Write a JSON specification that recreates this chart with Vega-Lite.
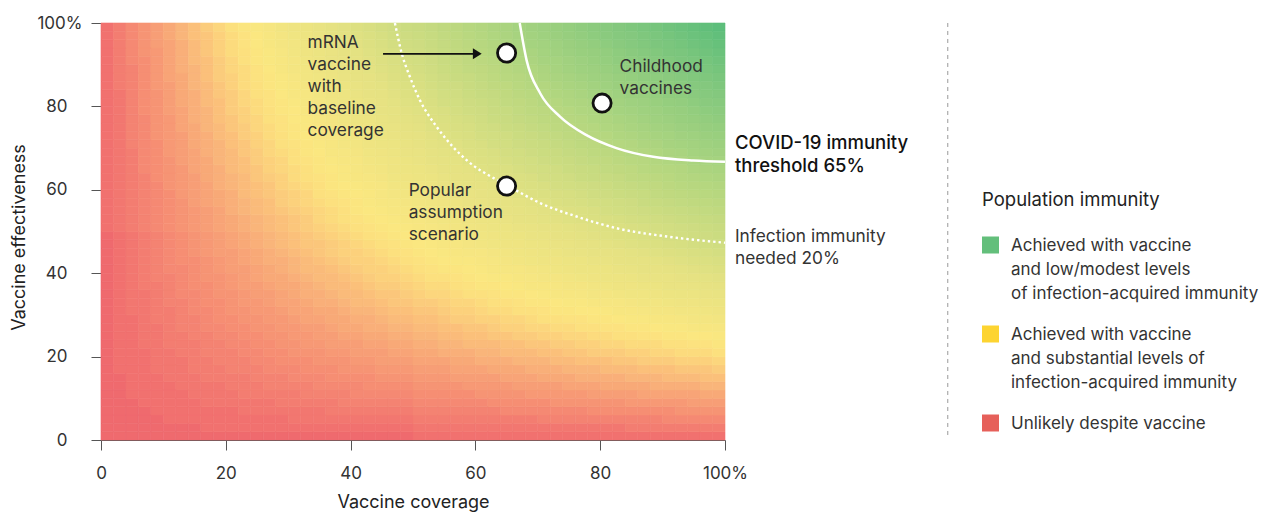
{
 "$schema": "https://vega.github.io/schema/vega-lite/v6.json",
 "width": 624, "height": 417,
 "autosize": {"type": "none"},
 "padding": {"left": 101, "top": 23, "right": 539, "bottom": 73},
 "background": "white",
 "config": {
  "view": {"stroke": null},
  "font": "Inter",
  "axis": {"labelFont": "Inter", "titleFont": "Inter", "labelFontSize": 17, "titleFontSize": 18, "titleFontWeight": "normal", "labelColor": "#333", "titleColor": "#222", "domainColor": "#555", "tickColor": "#555", "grid": false, "labelFlush": false},
  "legend": {"labelFont": "Inter", "titleFont": "Inter"}
 },
 "layer": [
  {
   "data": {"values": [
    {"x":0,"x2":2,"k":1,"v":[0,0,0,0,0,0,0,0,0,0,0,0,0,0,0,0,0,0,0,0,0,0,0,0,0,1,1,1,1,1,1,1,1,1,1,1,1,1,1,1,1,1,1,1,1,1,1,1,1,1]},
    {"x":2,"x2":4,"k":1,"v":[0,0,0,0,0,0,0,0,1,1,1,1,1,1,1,1,1,1,1,1,1,1,1,1,1,2,2,2,2,2,2,2,2,2,2,2,2,2,2,2,2,2,3,3,3,3,3,3,3,3]},
    {"x":4,"x2":6,"k":1,"v":[0,0,0,0,0,1,1,1,1,1,1,1,1,1,1,2,2,2,2,2,2,2,2,2,2,3,3,3,3,3,3,3,3,3,3,4,4,4,4,4,4,4,4,4,4,5,5,5,5,5]},
    {"x":6,"x2":8,"k":1,"v":[0,0,0,0,1,1,1,1,1,1,1,2,2,2,2,2,2,2,3,3,3,3,3,3,3,4,4,4,4,4,4,4,5,5,5,5,5,5,5,6,6,6,6,6,6,6,7,7,7,7]},
    {"x":8,"x2":10,"k":1,"v":[0,0,0,1,1,1,1,1,2,2,2,2,2,2,3,3,3,3,3,4,4,4,4,4,4,5,5,5,5,5,5,6,6,6,6,6,7,7,7,7,7,7,8,8,8,8,8,9,9,9]},
    {"x":10,"x2":12,"k":1,"v":[0,0,1,1,1,1,1,2,2,2,2,3,3,3,3,3,4,4,4,4,5,5,5,5,5,6,6,6,6,6,7,7,7,7,8,8,8,8,8,9,9,9,9,10,10,10,10,10,11,11]},
    {"x":12,"x2":14,"k":1,"v":[0,0,1,1,1,1,2,2,2,2,3,3,3,4,4,4,4,5,5,5,5,6,6,6,6,7,7,7,7,8,8,8,8,9,9,9,9,10,10,10,11,11,11,11,12,12,12,12,13,13]},
    {"x":14,"x2":16,"k":1,"v":[0,0,1,1,1,2,2,2,3,3,3,3,4,4,4,5,5,5,6,6,6,6,7,7,7,8,8,8,9,9,9,9,10,10,10,11,11,11,12,12,12,12,13,13,13,14,14,14,15,15]},
    {"x":16,"x2":18,"k":1,"v":[0,1,1,1,2,2,2,3,3,3,4,4,4,5,5,5,6,6,6,7,7,7,8,8,8,9,9,9,10,10,10,11,11,11,12,12,12,13,13,13,14,14,14,15,15,15,16,16,16,17]},
    {"x":18,"x2":20,"k":1,"v":[0,1,1,1,2,2,2,3,3,4,4,4,5,5,6,6,6,7,7,7,8,8,9,9,9,10,10,10,11,11,12,12,12,13,13,13,14,14,15,15,15,16,16,17,17,17,18,18,18,19]},
    {"x":20,"x2":22,"k":1,"v":[0,1,1,1,2,2,3,3,4,4,4,5,5,6,6,7,7,7,8,8,9,9,9,10,10,11,11,12,12,12,13,13,14,14,14,15,15,16,16,17,17,17,18,18,19,19,20,20,20,21]},
    {"x":22,"x2":24,"k":1,"v":[0,1,1,2,2,3,3,3,4,4,5,5,6,6,7,7,8,8,9,9,9,10,10,11,11,12,12,13,13,14,14,14,15,15,16,16,17,17,18,18,19,19,20,20,20,21,21,22,22,23]},
    {"x":24,"x2":26,"k":1,"v":[0,1,1,2,2,3,3,4,4,5,5,6,6,7,7,8,8,9,9,10,10,11,11,12,12,13,13,14,14,15,15,16,16,17,17,18,18,19,19,20,20,21,21,22,22,23,23,24,24,25]},
    {"x":26,"x2":28,"k":1,"v":[0,1,1,2,2,3,4,4,5,5,6,6,7,7,8,8,9,9,10,11,11,12,12,13,13,14,14,15,15,16,16,17,18,18,19,19,20,20,21,21,22,22,23,23,24,25,25,26,26,27]},
    {"x":28,"x2":30,"k":1,"v":[0,1,1,2,3,3,4,4,5,6,6,7,7,8,8,9,10,10,11,11,12,12,13,14,14,15,15,16,17,17,18,18,19,19,20,21,21,22,22,23,23,24,25,25,26,26,27,28,28,29]},
    {"x":30,"x2":32,"k":1,"v":[0,1,2,2,3,3,4,5,5,6,7,7,8,8,9,10,10,11,11,12,13,13,14,15,15,16,16,17,18,18,19,20,20,21,21,22,23,23,24,24,25,26,26,27,28,28,29,29,30,31]},
    {"x":32,"x2":34,"k":1,"v":[0,1,2,2,3,4,4,5,6,6,7,8,8,9,10,10,11,12,12,13,14,14,15,16,16,17,17,18,19,19,20,21,21,22,23,23,24,25,25,26,27,27,28,29,29,30,31,31,32,33]},
    {"x":34,"x2":36,"k":1,"v":[0,1,2,2,3,4,5,5,6,7,7,8,9,9,10,11,12,12,13,14,14,15,16,16,17,18,19,19,20,21,21,22,23,23,24,25,26,26,27,28,28,29,30,30,31,32,33,33,34,35]},
    {"x":36,"x2":38,"k":1,"v":[0,1,2,3,3,4,5,6,6,7,8,9,9,10,11,11,12,13,14,14,15,16,17,17,18,19,20,20,21,22,23,23,24,25,26,26,27,28,28,29,30,31,31,32,33,34,34,35,36,37]},
    {"x":38,"x2":40,"k":1,"v":[0,1,2,3,4,4,5,6,7,7,8,9,10,11,11,12,13,14,14,15,16,17,18,18,19,20,21,21,22,23,24,25,25,26,27,28,28,29,30,31,32,32,33,34,35,35,36,37,38,39]},
    {"x":40,"x2":42,"k":1,"v":[0,1,2,3,4,5,5,6,7,8,9,9,10,11,12,13,14,14,15,16,17,18,18,19,20,21,22,23,23,24,25,26,27,27,28,29,30,31,32,32,33,34,35,36,36,37,38,39,40,41]},
    {"x":42,"x2":44,"k":1,"v":[0,1,2,3,4,5,6,6,7,8,9,10,11,12,12,13,14,15,16,17,18,18,19,20,21,22,23,24,25,25,26,27,28,29,30,31,31,32,33,34,35,36,37,37,38,39,40,41,42,43]},
    {"x":44,"x2":46,"k":1,"v":[0,1,2,3,4,5,6,7,8,9,9,10,11,12,13,14,15,16,17,18,18,19,20,21,22,23,24,25,26,27,27,28,29,30,31,32,33,34,35,36,36,37,38,39,40,41,42,43,44,45]},
    {"x":46,"x2":48,"k":1,"v":[0,1,2,3,4,5,6,7,8,9,10,11,12,13,14,15,16,16,17,18,19,20,21,22,23,24,25,26,27,28,29,30,31,31,32,33,34,35,36,37,38,39,40,41,42,43,44,45,46,47]},
    {"x":48,"x2":50,"k":1,"v":[0,1,2,3,4,5,6,7,8,9,10,11,12,13,14,15,16,17,18,19,20,21,22,23,24,25,26,27,28,29,30,31,32,33,34,35,36,37,38,39,40,41,42,43,44,45,46,47,48,49]},
    {"x":50,"x2":52,"k":1,"v":[1,2,3,4,5,6,7,8,9,10,11,12,13,14,15,16,17,18,19,20,21,22,23,24,25,26,27,28,29,30,31,32,33,34,35,36,37,38,39,40,41,42,43,44,45,46,47,48,49,50]},
    {"x":52,"x2":54,"k":1,"v":[1,2,3,4,5,6,7,8,9,10,11,12,13,14,15,16,17,19,20,21,22,23,24,25,26,27,28,29,30,31,32,33,34,36,37,38,39,40,41,42,43,44,45,46,47,48,49,50,51,52]},
    {"x":54,"x2":56,"k":1,"v":[1,2,3,4,5,6,7,8,9,10,12,13,14,15,16,17,18,19,20,21,23,24,25,26,27,28,29,30,31,32,34,35,36,37,38,39,40,41,42,43,45,46,47,48,49,50,51,52,53,54]},
    {"x":56,"x2":58,"k":1,"v":[1,2,3,4,5,6,7,9,10,11,12,13,14,15,17,18,19,20,21,22,23,25,26,27,28,29,30,31,32,34,35,36,37,38,39,40,42,43,44,45,46,47,48,50,51,52,53,54,55,56]},
    {"x":58,"x2":60,"k":1,"v":[1,2,3,4,5,6,8,9,10,11,12,14,15,16,17,18,19,21,22,23,24,25,27,28,29,30,31,32,34,35,36,37,38,40,41,42,43,44,45,47,48,49,50,51,53,54,55,56,57,58]},
    {"x":60,"x2":62,"k":1,"v":[1,2,3,4,5,7,8,9,10,12,13,14,15,16,18,19,20,21,23,24,25,26,27,29,30,31,32,34,35,36,37,38,40,41,42,43,45,46,47,48,49,51,52,53,54,56,57,58,59,60]},
    {"x":62,"x2":64,"k":1,"v":[1,2,3,4,6,7,8,9,11,12,13,14,16,17,18,20,21,22,23,25,26,27,28,30,31,32,33,35,36,37,38,40,41,42,43,45,46,47,49,50,51,52,54,55,56,57,59,60,61,62]},
    {"x":64,"x2":66,"k":1,"v":[1,2,3,5,6,7,8,10,11,12,14,15,16,18,19,20,21,23,24,25,27,28,29,31,32,33,34,36,37,38,40,41,42,44,45,46,47,49,50,51,53,54,55,57,58,59,60,62,63,64]},
    {"x":66,"x2":68,"k":1,"v":[1,2,3,5,6,7,9,10,11,13,14,15,17,18,19,21,22,23,25,26,27,29,30,31,33,34,36,37,38,40,41,42,44,45,46,48,49,50,52,53,54,56,57,58,60,61,62,64,65,66]},
    {"x":68,"x2":70,"k":1,"v":[1,2,3,5,6,8,9,10,12,13,14,16,17,19,20,21,23,24,26,27,28,30,31,32,34,35,37,38,39,41,42,43,45,46,48,49,50,52,53,55,56,57,59,60,61,63,64,66,67,68]},
    {"x":70,"x2":72,"k":1,"v":[1,2,4,5,6,8,9,11,12,13,15,16,18,19,21,22,23,25,26,28,29,31,32,33,35,36,38,39,40,42,43,45,46,48,49,50,52,53,55,56,58,59,60,62,63,65,66,67,69,70]},
    {"x":72,"x2":74,"k":1,"v":[1,2,4,5,7,8,9,11,12,14,15,17,18,20,21,23,24,26,27,28,30,31,33,34,36,37,39,40,42,43,45,46,47,49,50,52,53,55,56,58,59,61,62,64,65,66,68,69,71,72]},
    {"x":74,"x2":76,"k":1,"v":[1,2,4,5,7,8,10,11,13,14,16,17,19,20,22,23,25,26,28,29,31,32,34,35,37,38,40,41,43,44,46,47,49,50,52,53,55,56,58,59,61,62,64,65,67,68,70,71,73,74]},
    {"x":76,"x2":78,"k":1,"v":[1,2,4,5,7,8,10,12,13,15,16,18,19,21,22,24,25,27,28,30,32,33,35,36,38,39,41,42,44,45,47,49,50,52,53,55,56,58,59,61,62,64,65,67,69,70,72,73,75,76]},
    {"x":78,"x2":80,"k":1,"v":[1,2,4,6,7,9,10,12,13,15,17,18,20,21,23,24,26,28,29,31,32,34,36,37,39,40,42,43,45,47,48,50,51,53,55,56,58,59,61,62,64,66,67,69,70,72,73,75,77,78]},
    {"x":80,"x2":82,"k":1,"v":[1,2,4,6,7,9,11,12,14,15,17,19,20,22,23,25,27,28,30,32,33,35,36,38,40,41,43,45,46,48,49,51,53,54,56,58,59,61,62,64,66,67,69,70,72,74,75,77,79,80]},
    {"x":82,"x2":84,"k":1,"v":[1,2,4,6,7,9,11,12,14,16,17,19,21,22,24,26,27,29,31,32,34,36,37,39,41,42,44,46,47,49,51,52,54,56,57,59,61,62,64,66,67,69,71,72,74,76,77,79,81,82]},
    {"x":84,"x2":86,"k":1,"v":[1,3,4,6,8,9,11,13,14,16,18,20,21,23,25,26,28,30,31,33,35,37,38,40,42,43,45,47,48,50,52,54,55,57,59,60,62,64,65,67,69,71,72,74,76,77,79,81,82,84]},
    {"x":86,"x2":88,"k":1,"v":[1,3,4,6,8,10,11,13,15,17,18,20,22,23,25,27,29,30,32,34,36,37,39,41,43,44,46,48,50,51,53,55,57,58,60,62,64,65,67,69,70,72,74,76,77,79,81,83,84,86]},
    {"x":88,"x2":90,"k":1,"v":[1,3,4,6,8,10,12,13,15,17,19,20,22,24,26,28,29,31,33,35,36,38,40,42,44,45,47,49,51,53,54,56,58,60,61,63,65,67,69,70,72,74,76,77,79,81,83,85,86,88]},
    {"x":90,"x2":92,"k":1,"v":[1,3,5,6,8,10,12,14,15,17,19,21,23,25,26,28,30,32,34,35,37,39,41,43,45,46,48,50,52,54,56,57,59,61,63,65,66,68,70,72,74,76,77,79,81,83,85,86,88,90]},
    {"x":92,"x2":94,"k":1,"v":[1,3,5,7,8,10,12,14,16,18,20,21,23,25,27,29,31,33,34,36,38,40,42,44,46,47,49,51,53,55,57,59,60,62,64,66,68,70,72,73,75,77,79,81,83,85,86,88,90,92]},
    {"x":94,"x2":96,"k":1,"v":[1,3,5,7,9,10,12,14,16,18,20,22,24,26,28,29,31,33,35,37,39,41,43,45,47,48,50,52,54,56,58,60,62,64,66,67,69,71,73,75,77,79,81,83,85,86,88,90,92,94]},
    {"x":96,"x2":98,"k":1,"v":[1,3,5,7,9,11,13,15,16,18,20,22,24,26,28,30,32,34,36,38,40,42,44,46,48,49,51,53,55,57,59,61,63,65,67,69,71,73,75,77,79,81,82,84,86,88,90,92,94,96]},
    {"x":98,"x2":100,"k":1,"v":[1,3,5,7,9,11,13,15,17,19,21,23,25,27,29,31,33,35,37,39,41,43,45,47,49,50,52,54,56,58,60,62,64,66,68,70,72,74,76,78,80,82,84,86,88,90,92,94,96,98]}
   ]},
   "transform": [
    {"lookup": "k", "from": {"data": {"values": [{"k": 1,
      "y": [0,2,4,6,8,10,12,14,16,18,20,22,24,26,28,30,32,34,36,38,40,42,44,46,48,50,52,54,56,58,60,62,64,66,68,70,72,74,76,78,80,82,84,86,88,90,92,94,96,98],
      "y2": [2,4,6,8,10,12,14,16,18,20,22,24,26,28,30,32,34,36,38,40,42,44,46,48,50,52,54,56,58,60,62,64,66,68,70,72,74,76,78,80,82,84,86,88,90,92,94,96,98,100]}]},
      "key": "k", "fields": ["y", "y2"]}},
    {"flatten": ["y", "y2", "v"]}
   ],
   "mark": {"type": "rect", "strokeWidth": 0.6},
   "encoding": {
    "x": {"field": "x", "type": "quantitative", "scale": {"domain": [0, 100], "nice": false, "zero": false},
      "axis": {"title": "Vaccine coverage", "values": [0,20,40,60,80,100], "labelExpr": "datum.value == 100 ? '100%' : datum.label", "tickSize": 10, "labelPadding": 15, "titleY": 62, "titleBaseline": "middle"}},
    "x2": {"field": "x2"},
    "y": {"field": "y", "type": "quantitative", "scale": {"domain": [0, 100], "nice": false, "zero": false},
      "axis": {"title": "Vaccine effectiveness", "values": [0,20,40,60,80,100], "labelExpr": "datum.value == 100 ? '100%' : datum.label", "tickSize": 10, "labelPadding": {"condition": {"test": "datum.value == 100", "value": 9}, "value": 24}, "titleX": -82, "titleY": 214, "titleBaseline": "middle"}},
    "y2": {"field": "y2"},
    "color": {"field": "v", "type": "quantitative", "legend": null,
      "scale": {"domain": [0,1,3,5,9,13,17,21,24,29,37,47,67,81,98], "range": ["#ef6a6e","#f1716f","#f37d71","#f58973","#f79e76","#f9b57a","#fbcc7c","#fce07e","#fbe780","#f2e581","#e6e282","#d0dd81","#a3d27f","#86c97e","#5dbe7b"]}},
    "stroke": {"field": "v", "type": "quantitative", "legend": null,
      "scale": {"domain": [0,1,3,5,9,13,17,21,24,29,37,47,67,81,98], "range": ["#ef6a6e","#f1716f","#f37d71","#f58973","#f79e76","#f9b57a","#fbcc7c","#fce07e","#fbe780","#f2e581","#e6e282","#d0dd81","#a3d27f","#86c97e","#5dbe7b"]}}
   }
  },
  {
   "data": {"values": [
    {"x":67.1,"y":100},{"x":68.2,"y":91.1},{"x":70.4,"y":83.1},{"x":73.6,"y":77.5},{"x":77.8,"y":73.1},{"x":82.6,"y":70.0},{"x":88.5,"y":67.9},{"x":94.9,"y":67.0},{"x":100,"y":66.7}
   ]},
   "mark": {"type": "line", "color": "white", "strokeWidth": 2.5, "interpolate": "monotone"},
   "encoding": {
    "x": {"field": "x", "type": "quantitative", "scale": {"domain": [0, 100], "nice": false, "zero": false}},
    "y": {"field": "y", "type": "quantitative", "scale": {"domain": [0, 100], "nice": false, "zero": false}}
   }
  },
  {
   "data": {"values": [
    {"x":47.1,"y":100},{"x":48.2,"y":92.7},{"x":49.5,"y":87.1},{"x":51.1,"y":81.5},{"x":53.8,"y":75.1},{"x":56.4,"y":70.3},{"x":58.6,"y":67.1},{"x":63.4,"y":62.4},{"x":65.5,"y":60.7},{"x":70.4,"y":56.8},{"x":76.2,"y":53.6},{"x":82.6,"y":50.8},{"x":90.7,"y":48.8},{"x":100,"y":47.3}
   ]},
   "mark": {"type": "line", "color": "white", "strokeWidth": 2.4, "strokeDash": [2.4, 3], "interpolate": "monotone"},
   "encoding": {
    "x": {"field": "x", "type": "quantitative", "scale": {"domain": [0, 100], "nice": false, "zero": false}},
    "y": {"field": "y", "type": "quantitative", "scale": {"domain": [0, 100], "nice": false, "zero": false}}
   }
  },
  {
   "data": {"values": [{"x": 45.2, "x2": 60.3, "y": 92.6}]},
   "layer": [
    {"mark": {"type": "rule", "color": "#111", "strokeWidth": 1.6},
     "encoding": {
      "x": {"field": "x", "type": "quantitative", "scale": {"domain": [0, 100], "nice": false, "zero": false}},
      "x2": {"field": "x2"},
      "y": {"field": "y", "type": "quantitative", "scale": {"domain": [0, 100], "nice": false, "zero": false}}
     }},
    {"mark": {"type": "point", "shape": "M-0.8,-1L0.8,0L-0.8,1Z", "filled": true, "color": "#111", "opacity": 1, "size": 121},
     "encoding": {
      "x": {"field": "x2", "type": "quantitative", "scale": {"domain": [0, 100], "nice": false, "zero": false}},
      "y": {"field": "y", "type": "quantitative", "scale": {"domain": [0, 100], "nice": false, "zero": false}}
     }}
   ]
  },
  {
   "data": {"values": [{"x": 65, "y": 92.8}, {"x": 80.3, "y": 80.8}, {"x": 65, "y": 60.9}]},
   "mark": {"type": "point", "filled": true, "fill": "white", "stroke": "#111", "strokeWidth": 2.8, "size": 330, "opacity": 1},
   "encoding": {
    "x": {"field": "x", "type": "quantitative", "scale": {"domain": [0, 100], "nice": false, "zero": false}},
    "y": {"field": "y", "type": "quantitative", "scale": {"domain": [0, 100], "nice": false, "zero": false}}
   }
  },
  {
   "data": {"values": [
    {"x": 33.1, "y": 93.9, "t": "mRNA|vaccine|with|baseline|coverage"},
    {"x": 83.1, "y": 88.3, "t": "Childhood|vaccines"},
    {"x": 49.3, "y": 58.4, "t": "Popular|assumption|scenario"},
    {"x": 101.6, "y": 47.55, "t": "Infection immunity|needed 20%"}
   ]},
   "mark": {"type": "text", "align": "left", "baseline": "alphabetic", "lineBreak": "|", "lineHeight": 22, "font": "Inter", "fontSize": 17.3, "color": "#333"},
   "encoding": {
    "x": {"field": "x", "type": "quantitative", "scale": {"domain": [0, 100], "nice": false, "zero": false}},
    "y": {"field": "y", "type": "quantitative", "scale": {"domain": [0, 100], "nice": false, "zero": false}},
    "text": {"field": "t"}
   }
  },
  {
   "data": {"values": [{"x": 101.6, "y": 69.7, "t": "COVID-19 immunity|threshold 65%"}]},
   "mark": {"type": "text", "align": "left", "baseline": "alphabetic", "lineBreak": "|", "lineHeight": 22.5, "font": "Inter", "fontSize": 18.5, "fontWeight": 500, "color": "#111"},
   "encoding": {
    "x": {"field": "x", "type": "quantitative", "scale": {"domain": [0, 100], "nice": false, "zero": false}},
    "y": {"field": "y", "type": "quantitative", "scale": {"domain": [0, 100], "nice": false, "zero": false}},
    "text": {"field": "t"}
   }
  },
  {
   "data": {"values": [{"x": 135.7, "y": 1.2, "y2": 100}]},
   "mark": {"type": "rule", "color": "#999", "strokeWidth": 1, "strokeDash": [4, 4]},
   "encoding": {
    "x": {"field": "x", "type": "quantitative", "scale": {"domain": [0, 100], "nice": false, "zero": false}},
    "y": {"field": "y", "type": "quantitative", "scale": {"domain": [0, 100], "nice": false, "zero": false}},
    "y2": {"field": "y2"}
   }
  },
  {
   "data": {"values": [
    {"cat": "Achieved with vaccine|and low/modest levels|of infection-acquired immunity"},
    {"cat": "Achieved with vaccine|and substantial levels of|infection-acquired immunity"},
    {"cat": "Unlikely despite vaccine"}
   ]},
   "mark": {"type": "point", "shape": "square", "filled": true, "opacity": 0},
   "encoding": {
    "fill": {"field": "cat", "type": "nominal",
     "scale": {"domain": ["Achieved with vaccine|and low/modest levels|of infection-acquired immunity", "Achieved with vaccine|and substantial levels of|infection-acquired immunity", "Unlikely despite vaccine"], "range": ["#63bf7b", "#fdd431", "#e6605a"]},
     "legend": {"title": "Population immunity", "orient": "none", "legendX": 881, "legendY": 168,
      "titleFontSize": 18.5, "titleFontWeight": "normal", "titleColor": "#222", "titlePadding": 27, "titleLimit": 400,
      "symbolType": "square", "symbolSize": 289, "symbolStrokeWidth": 0, "symbolOpacity": 1,
      "labelFontSize": 17, "labelColor": "#333", "labelLimit": 500, "labelOffset": 12,
      "labelExpr": "split(datum.label, '|')", "labelBaseline": "alphabetic", "rowPadding": 23,
      "encode": {"labels": {"update": {"dy": {"value": 6}, "lineHeight": {"value": 24}}}}}}
   }
  }
 ]
}
